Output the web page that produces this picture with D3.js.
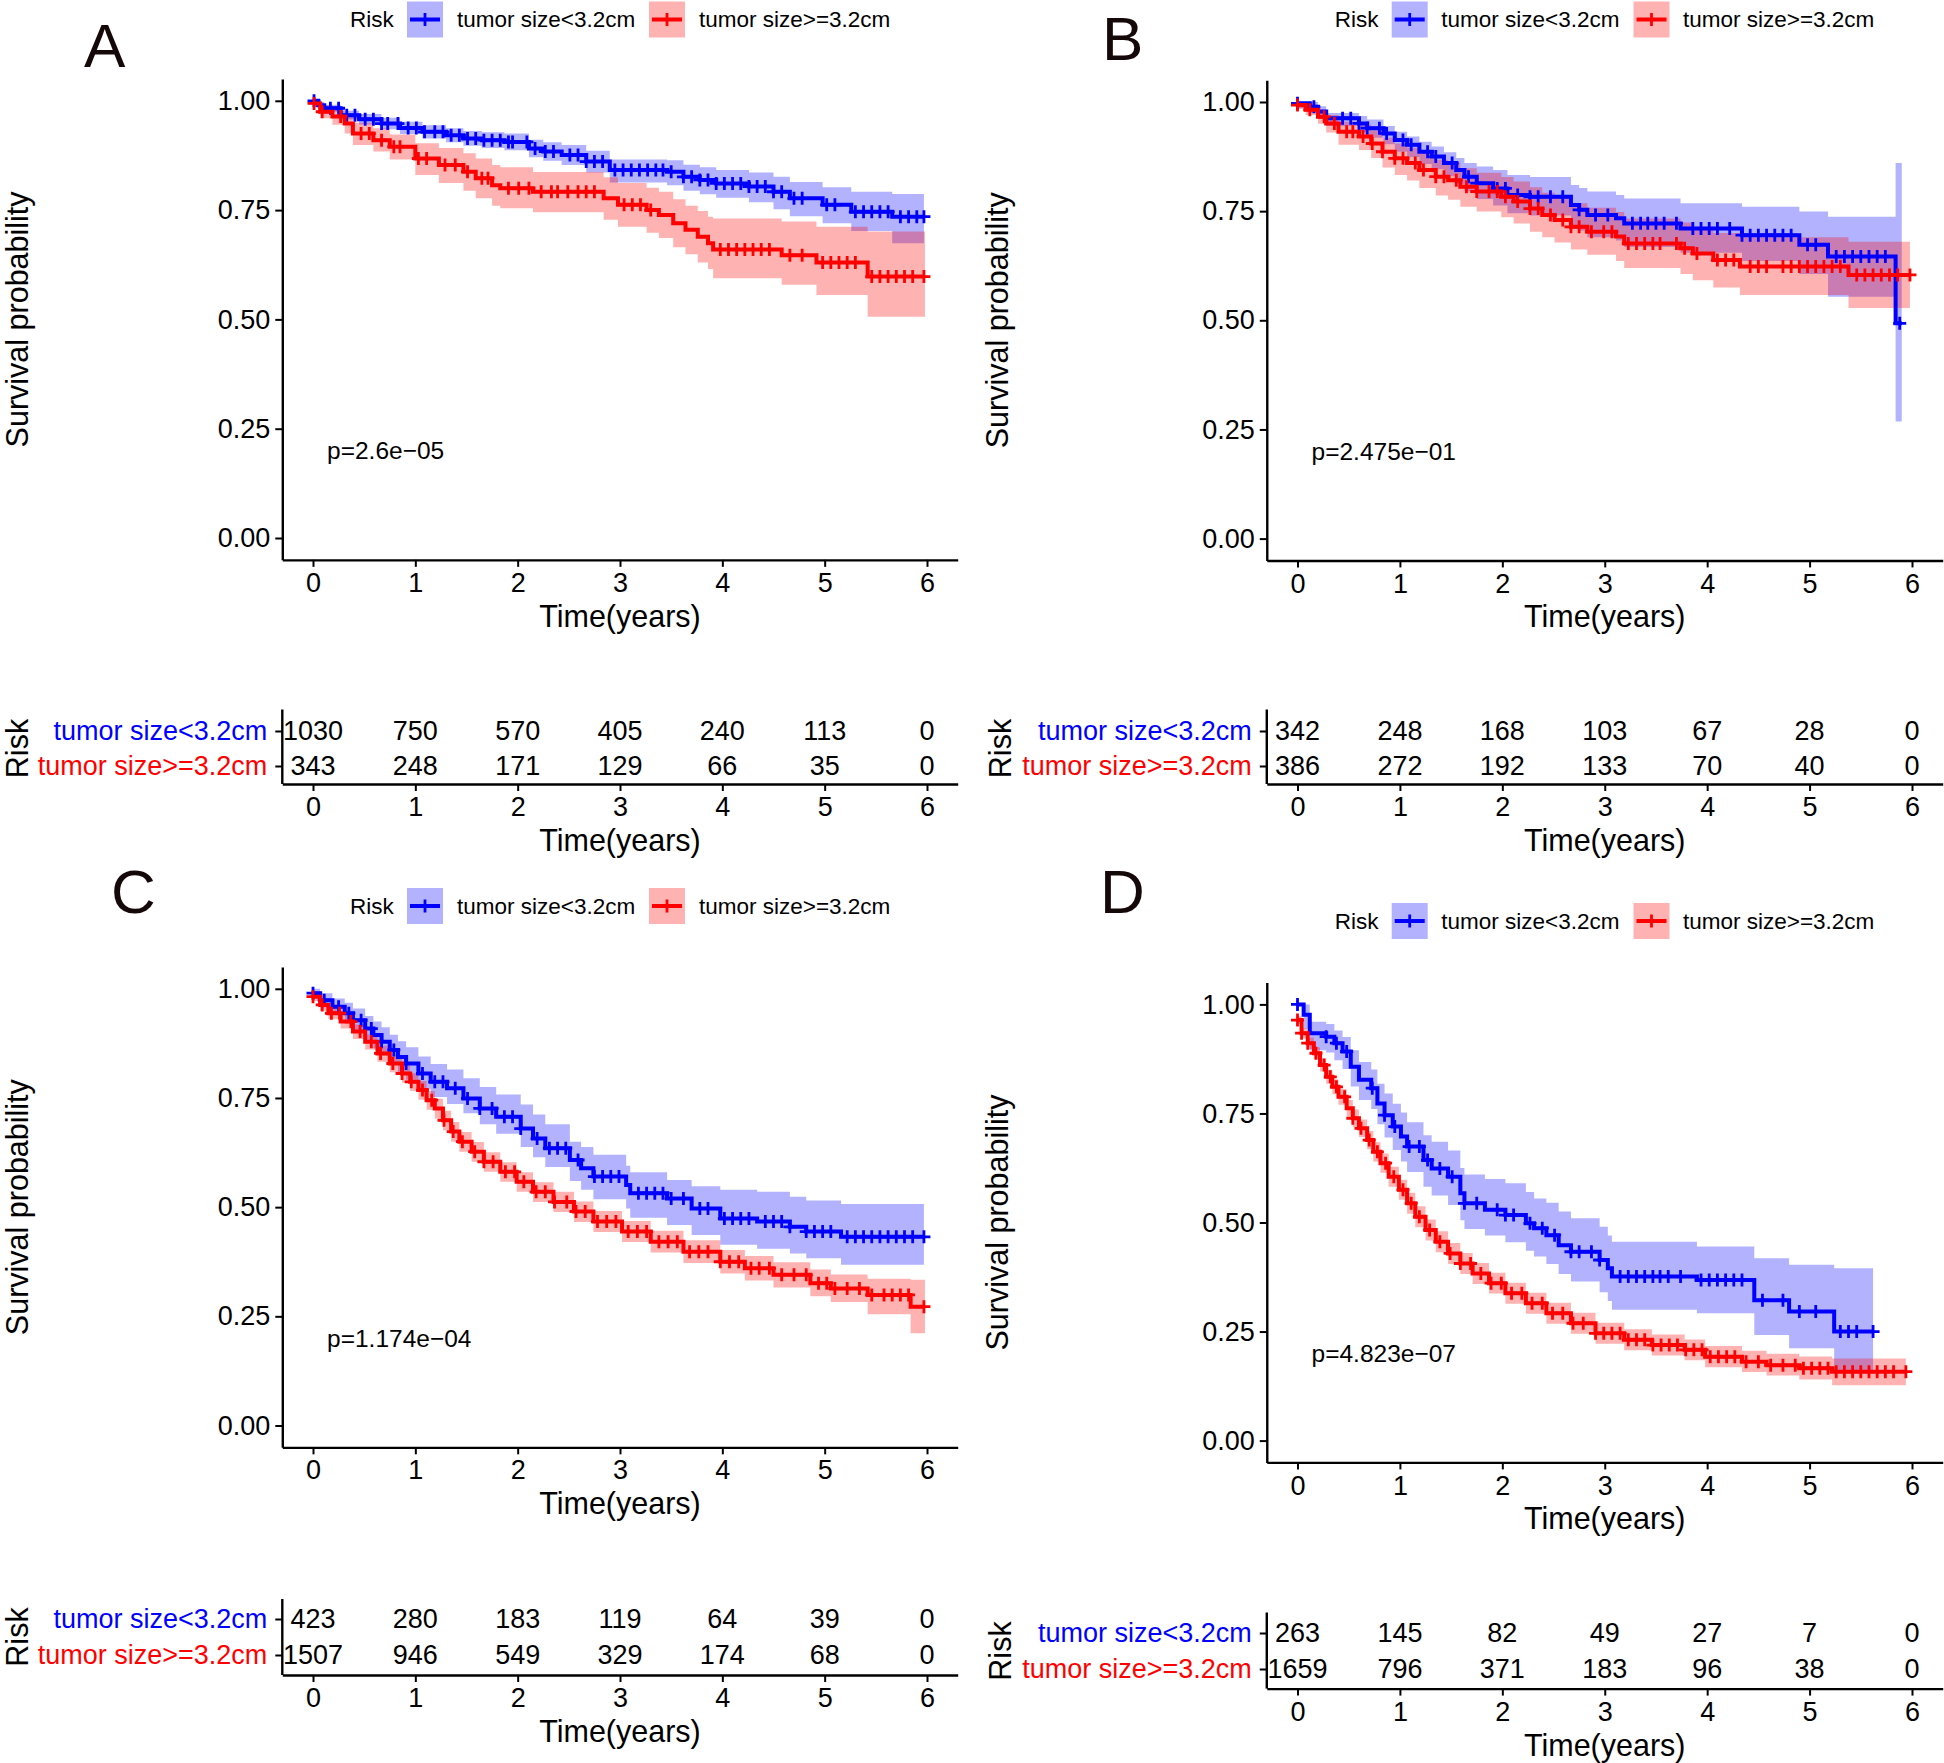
<!DOCTYPE html>
<html><head><meta charset="utf-8">
<script src="https://cdn.jsdelivr.net/npm/d3@7"></script>
<style>
body{margin:0;background:#fff}
svg{display:block}
text{font-family:"Liberation Sans",Arial,Helvetica,sans-serif}
</style>
</head><body>
<svg id="c" width="1944" height="1763"></svg>
<script>
// ---------------- DATA ----------------
const panelLetters = ["A","B","C","D"];
const groupLabels = ["tumor size<3.2cm","tumor size>=3.2cm"];
const groupColors = ["#0000FF","#FF0000"];
const legendTitle = "Risk";
const yTicks = [0,0.25,0.5,0.75,1];
const xTicks = [0,1,2,3,4,5,6];
const pValues = ["p=2.6e\u221205","p=2.475e\u221201","p=1.174e\u221204","p=4.823e\u221207"];

// numbers at risk
const riskA_low  = [1030,750,570,405,240,113,0];
const riskA_high = [343,248,171,129,66,35,0];
const riskB_low  = [342,248,168,103,67,28,0];
const riskB_high = [386,272,192,133,70,40,0];
const riskC_low  = [423,280,183,119,64,39,0];
const riskC_high = [1507,946,549,329,174,68,0];
const riskD_low  = [263,145,82,49,27,7,0];
const riskD_high = [1659,796,371,183,96,38,0];

// Panel A, tumor size<3.2cm
const timeA_low = [0,0.05,0.11,0.27,0.45,0.67,0.85,1.07,1.30,1.47,1.65,1.87,2.11,2.25,2.43,2.67,2.90,3.46,3.62,3.78,3.94,4.26,4.50,4.66,4.98,5.26,5.66,5.97];
const survA_low = [1.0,0.990,0.983,0.967,0.958,0.948,0.938,0.929,0.921,0.914,0.910,0.906,0.891,0.884,0.876,0.861,0.842,0.838,0.826,0.819,0.811,0.804,0.792,0.777,0.762,0.746,0.735,0.735];
const loA_low   = [1.0,0.983,0.975,0.957,0.946,0.935,0.924,0.914,0.905,0.897,0.892,0.887,0.871,0.863,0.853,0.836,0.813,0.807,0.794,0.786,0.778,0.768,0.752,0.736,0.720,0.702,0.674,0.674];
const upA_low   = [1.0,0.997,0.991,0.977,0.970,0.961,0.952,0.944,0.937,0.931,0.928,0.925,0.911,0.905,0.899,0.886,0.866,0.864,0.854,0.848,0.842,0.836,0.826,0.814,0.802,0.792,0.787,0.787];
const censA_low = [0.01,0.17,0.25,0.33,0.41,0.51,0.59,0.67,0.73,0.83,0.93,1.01,1.09,1.19,1.27,1.35,1.43,1.51,1.59,1.67,1.75,1.83,1.91,1.95,2.09,2.17,2.27,2.35,2.51,2.59,2.67,2.75,2.83,2.95,3.03,3.11,3.19,3.27,3.35,3.42,3.50,3.62,3.70,3.78,3.86,3.94,4.02,4.10,4.18,4.26,4.34,4.42,4.50,4.58,4.70,4.78,5.02,5.10,5.30,5.38,5.46,5.54,5.62,5.74,5.82,5.90,5.97];

// Panel A, tumor size>=3.2cm
const timeA_high = [0,0.07,0.19,0.31,0.39,0.59,0.75,1.00,1.23,1.47,1.59,1.75,1.83,2.15,2.84,2.98,3.26,3.38,3.52,3.64,3.76,3.86,3.91,4.58,4.92,5.42,5.98];
const survA_high = [0.994,0.975,0.964,0.948,0.925,0.910,0.895,0.868,0.853,0.838,0.823,0.807,0.800,0.792,0.777,0.762,0.750,0.739,0.720,0.705,0.689,0.674,0.660,0.647,0.630,0.598,0.598];
const loA_high   = [0.986,0.960,0.945,0.925,0.899,0.884,0.866,0.830,0.812,0.794,0.777,0.760,0.754,0.745,0.728,0.712,0.698,0.686,0.665,0.649,0.630,0.615,0.594,0.579,0.556,0.506,0.506];
const upA_high   = [1.0,0.990,0.983,0.970,0.950,0.937,0.923,0.903,0.892,0.880,0.868,0.853,0.848,0.837,0.825,0.812,0.801,0.792,0.775,0.760,0.748,0.735,0.731,0.724,0.712,0.701,0.701];
const censA_high = [0.01,0.09,0.27,0.47,0.55,0.67,0.79,0.85,1.03,1.11,1.29,1.39,1.51,1.65,1.71,1.91,2.01,2.11,2.23,2.33,2.39,2.49,2.59,2.67,2.75,3.04,3.12,3.20,3.30,3.98,4.06,4.14,4.22,4.30,4.38,4.46,4.66,4.78,4.98,5.06,5.14,5.22,5.30,5.46,5.54,5.62,5.70,5.78,5.86,5.97];

// Panel B, tumor size<3.2cm
const timeB_low = [0,0.12,0.20,0.28,0.60,0.68,0.84,0.95,1.07,1.19,1.31,1.43,1.55,1.63,1.75,1.91,2.05,2.27,2.67,2.75,2.83,3.11,3.19,3.74,4.34,4.90,5.18,5.84,5.90];
const survB_low = [0.997,0.989,0.978,0.963,0.951,0.940,0.928,0.913,0.902,0.886,0.875,0.860,0.844,0.829,0.814,0.802,0.787,0.783,0.764,0.753,0.741,0.734,0.722,0.710,0.695,0.673,0.646,0.493,0.493];
const loB_low   = [0.985,0.975,0.962,0.945,0.930,0.918,0.903,0.886,0.874,0.858,0.846,0.830,0.812,0.795,0.778,0.763,0.745,0.740,0.718,0.705,0.690,0.683,0.668,0.655,0.636,0.606,0.554,0.268,0.268];
const upB_low   = [1.0,1.0,0.990,0.975,0.968,0.960,0.945,0.932,0.921,0.909,0.898,0.885,0.872,0.860,0.852,0.844,0.833,0.828,0.810,0.803,0.795,0.787,0.779,0.768,0.760,0.749,0.737,0.860,0.860];
const censB_low = [0.0,0.16,0.44,0.52,0.60,0.68,0.80,0.87,1.03,1.11,1.27,1.35,1.51,1.67,1.75,1.95,2.03,2.15,2.27,2.35,2.47,2.59,2.75,2.91,3.03,3.27,3.35,3.42,3.50,3.58,3.70,3.86,3.94,4.02,4.10,4.22,4.34,4.42,4.50,4.58,4.66,4.74,4.82,4.98,5.06,5.26,5.34,5.42,5.50,5.58,5.66,5.74,5.88];

// Panel B, tumor size>=3.2cm
const timeB_high = [0,0.08,0.20,0.28,0.40,0.60,0.72,0.83,0.95,1.07,1.19,1.35,1.47,1.59,1.75,1.99,2.11,2.27,2.39,2.51,2.67,2.83,3.11,3.19,3.74,3.86,4.06,4.32,5.38,5.98];
const survB_high = [0.993,0.982,0.966,0.951,0.932,0.921,0.905,0.886,0.871,0.860,0.844,0.829,0.821,0.806,0.795,0.783,0.772,0.756,0.741,0.730,0.714,0.703,0.692,0.676,0.665,0.653,0.638,0.623,0.604,0.604];
const loB_high   = [0.985,0.970,0.950,0.930,0.902,0.890,0.872,0.850,0.833,0.820,0.803,0.786,0.776,0.760,0.749,0.736,0.722,0.703,0.690,0.678,0.662,0.650,0.636,0.620,0.606,0.592,0.575,0.558,0.528,0.528];
const upB_high   = [1.0,0.995,0.982,0.970,0.955,0.948,0.935,0.918,0.905,0.895,0.882,0.868,0.861,0.848,0.838,0.828,0.818,0.805,0.792,0.782,0.768,0.758,0.748,0.733,0.724,0.714,0.700,0.690,0.680,0.680];
const censB_high = [0.0,0.12,0.26,0.36,0.48,0.54,0.64,0.73,0.83,0.95,1.03,1.15,1.23,1.35,1.43,1.55,1.65,1.75,1.87,1.95,2.03,2.15,2.27,2.35,2.47,2.59,2.67,2.75,2.87,2.99,3.07,3.23,3.31,3.39,3.47,3.54,3.70,3.78,3.90,4.10,4.18,4.26,4.42,4.50,4.58,4.74,4.82,4.90,4.98,5.06,5.14,5.22,5.30,5.46,5.54,5.62,5.70,5.78,5.86,5.98];

// Panel C, tumor size<3.2cm
const timeC_low = [0,0.07,0.19,0.31,0.39,0.51,0.59,0.67,0.75,0.83,0.91,1.03,1.15,1.31,1.47,1.63,1.79,2.03,2.15,2.27,2.51,2.62,2.74,3.06,3.10,3.46,3.70,3.98,4.34,4.66,4.82,5.16,5.97];
const survC_low = [0.990,0.974,0.959,0.944,0.928,0.909,0.894,0.879,0.860,0.844,0.829,0.806,0.787,0.772,0.749,0.726,0.707,0.680,0.657,0.635,0.608,0.589,0.570,0.551,0.532,0.520,0.497,0.474,0.467,0.455,0.444,0.432,0.432];
const loC_low   = [0.978,0.957,0.940,0.920,0.902,0.881,0.864,0.847,0.826,0.808,0.792,0.770,0.752,0.736,0.715,0.690,0.668,0.638,0.614,0.592,0.560,0.540,0.518,0.497,0.476,0.459,0.436,0.414,0.405,0.394,0.383,0.368,0.368];
const upC_low   = [1.0,0.990,0.978,0.968,0.955,0.938,0.925,0.912,0.895,0.880,0.866,0.845,0.828,0.815,0.795,0.775,0.758,0.735,0.712,0.690,0.650,0.638,0.620,0.595,0.580,0.562,0.548,0.540,0.535,0.524,0.515,0.507,0.507];
const censC_low = [0.0,0.11,0.25,0.35,0.47,0.57,0.67,0.79,0.91,1.07,1.19,1.27,1.39,1.51,1.63,1.75,1.87,1.95,2.03,2.19,2.31,2.39,2.47,2.59,2.75,2.83,2.91,2.99,3.18,3.26,3.34,3.42,3.50,3.62,3.78,3.86,4.02,4.10,4.18,4.26,4.42,4.50,4.58,4.66,4.82,4.90,4.98,5.06,5.22,5.30,5.38,5.46,5.54,5.62,5.70,5.78,5.86,5.97];

// Panel C, tumor size>=3.2cm
const timeC_high = [0,0.07,0.15,0.27,0.39,0.51,0.63,0.75,0.87,0.95,1.03,1.11,1.19,1.27,1.35,1.43,1.55,1.67,1.83,1.99,2.15,2.35,2.55,2.74,3.02,3.30,3.62,3.98,4.22,4.50,4.86,5.06,5.42,5.84,5.98];
const survC_high = [0.982,0.963,0.944,0.925,0.902,0.879,0.852,0.829,0.806,0.787,0.768,0.745,0.726,0.699,0.673,0.650,0.627,0.604,0.581,0.558,0.535,0.512,0.490,0.467,0.444,0.421,0.398,0.375,0.360,0.345,0.326,0.314,0.299,0.272,0.272];
const loC_high   = [0.972,0.950,0.930,0.909,0.885,0.861,0.833,0.809,0.785,0.766,0.746,0.723,0.703,0.676,0.650,0.627,0.604,0.581,0.558,0.535,0.512,0.489,0.466,0.443,0.420,0.396,0.372,0.348,0.332,0.316,0.296,0.283,0.255,0.211,0.211];
const upC_high   = [0.990,0.975,0.958,0.940,0.918,0.896,0.870,0.848,0.826,0.807,0.789,0.766,0.748,0.721,0.695,0.672,0.649,0.626,0.603,0.580,0.557,0.535,0.513,0.491,0.468,0.446,0.424,0.402,0.388,0.374,0.357,0.346,0.336,0.334,0.334];
const censC_high = [0.0,0.09,0.18,0.26,0.37,0.46,0.57,0.66,0.78,0.87,0.96,1.07,1.16,1.28,1.37,1.46,1.58,1.67,1.76,1.88,1.97,2.06,2.18,2.27,2.36,2.48,2.57,2.66,2.78,2.87,2.96,3.08,3.17,3.26,3.38,3.47,3.56,3.68,3.77,3.86,3.98,4.07,4.16,4.28,4.36,4.46,4.58,4.70,4.82,4.94,5.02,5.10,5.22,5.34,5.46,5.58,5.66,5.74,5.82,5.97];

// Panel D, tumor size<3.2cm
const timeD_low = [0,0.06,0.12,0.28,0.36,0.44,0.52,0.60,0.72,0.78,0.85,0.93,1.01,1.07,1.23,1.31,1.47,1.59,1.63,1.83,2.03,2.23,2.31,2.43,2.55,2.67,2.95,3.03,3.07,3.90,4.46,4.80,5.24,5.62];
const survD_low = [1.0,0.976,0.934,0.926,0.911,0.892,0.857,0.827,0.808,0.773,0.746,0.720,0.697,0.674,0.643,0.624,0.605,0.567,0.544,0.529,0.517,0.498,0.487,0.471,0.448,0.433,0.414,0.395,0.376,0.368,0.322,0.296,0.250,0.250];
const loD_low   = [1.0,0.945,0.895,0.890,0.872,0.852,0.812,0.781,0.760,0.725,0.695,0.666,0.640,0.616,0.582,0.562,0.540,0.505,0.485,0.470,0.455,0.435,0.422,0.405,0.382,0.365,0.340,0.320,0.300,0.292,0.242,0.212,0.154,0.154];
const upD_low   = [1.0,1.0,0.960,0.955,0.940,0.925,0.895,0.868,0.851,0.818,0.796,0.772,0.752,0.730,0.700,0.685,0.665,0.625,0.610,0.600,0.590,0.570,0.555,0.545,0.525,0.510,0.490,0.470,0.456,0.445,0.418,0.403,0.395,0.395];
const censD_low = [0.0,0.28,0.38,0.48,0.73,0.85,0.95,1.09,1.19,1.27,1.39,1.51,1.63,1.75,1.95,2.03,2.11,2.27,2.39,2.51,2.67,2.75,2.87,2.95,3.15,3.23,3.31,3.39,3.47,3.54,3.62,3.74,3.94,4.02,4.10,4.18,4.26,4.34,4.54,4.74,4.90,5.06,5.30,5.38,5.46,5.62];

// Panel D, tumor size>=3.2cm
const timeD_high = [0,0.04,0.10,0.16,0.22,0.28,0.34,0.40,0.48,0.54,0.60,0.68,0.74,0.81,0.89,0.99,1.07,1.15,1.25,1.35,1.47,1.59,1.71,1.87,2.03,2.23,2.43,2.67,2.91,3.19,3.46,3.78,3.98,4.34,4.58,4.90,5.22,5.94];
const survD_high = [0.964,0.934,0.911,0.888,0.861,0.834,0.811,0.788,0.762,0.739,0.716,0.689,0.662,0.636,0.605,0.575,0.544,0.513,0.483,0.456,0.429,0.406,0.383,0.361,0.338,0.315,0.292,0.269,0.246,0.231,0.219,0.208,0.192,0.181,0.173,0.166,0.158,0.158];
const loD_high   = [0.955,0.922,0.898,0.874,0.846,0.818,0.794,0.770,0.743,0.719,0.696,0.668,0.640,0.614,0.582,0.552,0.520,0.489,0.459,0.432,0.405,0.382,0.359,0.337,0.314,0.291,0.268,0.245,0.222,0.207,0.195,0.184,0.168,0.157,0.149,0.140,0.127,0.127];
const upD_high   = [0.973,0.946,0.924,0.902,0.876,0.850,0.828,0.806,0.781,0.759,0.736,0.710,0.684,0.658,0.628,0.598,0.568,0.537,0.507,0.480,0.453,0.430,0.407,0.385,0.362,0.339,0.316,0.293,0.270,0.255,0.243,0.232,0.217,0.206,0.199,0.193,0.188,0.188];
const censD_high = [0.0,0.04,0.10,0.18,0.26,0.32,0.38,0.46,0.54,0.62,0.70,0.78,0.86,0.94,1.03,1.11,1.19,1.29,1.39,1.49,1.59,1.69,1.79,1.89,1.99,2.09,2.19,2.29,2.39,2.49,2.59,2.69,2.79,2.91,2.99,3.07,3.15,3.23,3.31,3.39,3.47,3.55,3.63,3.71,3.79,3.87,3.95,4.03,4.11,4.19,4.27,4.38,4.50,4.62,4.74,4.86,4.94,5.02,5.10,5.18,5.26,5.34,5.42,5.50,5.58,5.66,5.74,5.82,5.94];

// ---------------- assemble ----------------
const panelData = [
  {curves:[{t:timeA_low,s:survA_low,lo:loA_low,up:upA_low,c:censA_low},{t:timeA_high,s:survA_high,lo:loA_high,up:upA_high,c:censA_high}], risk:[riskA_low,riskA_high]},
  {curves:[{t:timeB_low,s:survB_low,lo:loB_low,up:upB_low,c:censB_low},{t:timeB_high,s:survB_high,lo:loB_high,up:upB_high,c:censB_high}], risk:[riskB_low,riskB_high]},
  {curves:[{t:timeC_low,s:survC_low,lo:loC_low,up:upC_low,c:censC_low},{t:timeC_high,s:survC_high,lo:loC_high,up:upC_high,c:censC_high}], risk:[riskC_low,riskC_high]},
  {curves:[{t:timeD_low,s:survD_low,lo:loD_low,up:upD_low,c:censD_low},{t:timeD_high,s:survD_high,lo:loD_high,up:upD_high,c:censD_high}], risk:[riskD_low,riskD_high]}
];

// ---------------- LAYOUT (pixels) ----------------
const layout = [
  {letterX:84, letterY:67, legY:1.5, legX:[350,407,457,649,699], px0:313, px6:927, py0:538, py1:100.8, yTitleX:28, tTop:709.5, tBot:784, rows:[731,766], riskTitleX:27.5},
  {letterX:1102, letterY:60, legY:1.5, legX:[1334.7,1391.7,1441.3,1633.5,1683], px0:1297.5, px6:1912, py0:538.6, py1:102, yTitleX:1008, tTop:709.5, tBot:784, rows:[731,766], riskTitleX:1010.5},
  {letterX:111, letterY:913, legY:888, legX:[350,407,457,649,699], px0:313, px6:927, py0:1425.5, py1:988.8, yTitleX:28, tTop:1599, tBot:1675, rows:[1619,1655], riskTitleX:27.5},
  {letterX:1100, letterY:913, legY:903, legX:[1334.7,1391.7,1441.3,1633.5,1683], px0:1297.5, px6:1912, py0:1440.6, py1:1004.4, yTitleX:1008, tTop:1612.5, tBot:1688.6, rows:[1633,1669], riskTitleX:1010.5}
];

const svg = d3.select("#c");
svg.append("rect").attr("width",1944).attr("height",1763).attr("fill","#fff");

const F_TICK = 27, F_TITLE = 30.5, F_LEG = 22.5, F_P = 24.5, F_LET = 62;
const LW = 4;
const plusPath = "M-6.5,0H6.5M0,-6.5V6.5";
const MW = 2.8;

function styleAxis(ax){
  ax.select(".domain").attr("stroke","#000").attr("stroke-width",2.4);
  ax.selectAll(".tick line").attr("stroke","#000").attr("stroke-width",2);
  ax.selectAll(".tick text").attr("fill","#000").attr("font-size",F_TICK)
    .attr("font-family",'"Liberation Sans",Arial,sans-serif');
}

function survAt(c, t){
  const i = d3.bisectRight(c.t, t) - 1;
  return c.s[Math.max(0,i)];
}

panelData.forEach((D, pi) => {
  const L = layout[pi];
  const g = svg.append("g");
  const x = d3.scaleLinear().domain([0,6]).range([L.px0, L.px6]);
  const y = d3.scaleLinear().domain([0,1]).range([L.py0, L.py1]);
  const xe = d3.scaleLinear().domain([-0.3,6.3]).range([x(-0.3), x(6.3)]);
  const ye = d3.scaleLinear().domain([-0.05,1.05]).range([y(-0.05), y(1.05)]);

  // panel letter
  g.append("text").attr("x",L.letterX).attr("y",L.letterY).attr("font-size",F_LET)
    .attr("fill","#140808").text(panelLetters[pi]);

  // legend
  const lg = g.append("g");
  lg.append("text").attr("x",L.legX[0]).attr("y",L.legY+18).attr("dy","0.35em")
    .attr("font-size",F_LEG).attr("fill","#000").text(legendTitle);
  [0,1].forEach(k => {
    const bx = L.legX[1+2*k];
    lg.append("rect").attr("x",bx).attr("y",L.legY).attr("width",36).attr("height",36)
      .attr("fill",groupColors[k]).attr("fill-opacity",0.3);
    lg.append("line").attr("x1",bx+3).attr("x2",bx+33).attr("y1",L.legY+18).attr("y2",L.legY+18)
      .attr("stroke",groupColors[k]).attr("stroke-width",LW);
    lg.append("path").attr("d",plusPath).attr("transform",`translate(${bx+18},${L.legY+18})`)
      .attr("stroke",groupColors[k]).attr("stroke-width",MW).attr("fill","none");
    lg.append("text").attr("x",L.legX[2+2*k]).attr("y",L.legY+18).attr("dy","0.35em")
      .attr("font-size",F_LEG).attr("fill","#000").text(groupLabels[k]);
  });

  // bands
  D.curves.forEach((c,k) => {
    const pts = c.t.map((t,j)=>({t, lo:c.lo[j], up:c.up[j]}));
    g.append("path").datum(pts)
      .attr("d", d3.area().curve(d3.curveStepAfter).x(d=>x(d.t)).y0(d=>y(d.lo)).y1(d=>y(d.up)))
      .attr("fill", groupColors[k]).attr("fill-opacity",0.3).attr("stroke","none");
  });
  // lines + censor marks
  D.curves.forEach((c,k) => {
    const pts = c.t.map((t,j)=>({t, s:c.s[j]}));
    g.append("path").datum(pts)
      .attr("d", d3.line().curve(d3.curveStepAfter).x(d=>x(d.t)).y(d=>y(d.s)))
      .attr("fill","none").attr("stroke",groupColors[k]).attr("stroke-width",LW);
    g.append("g").selectAll("path").data(c.c).join("path")
      .attr("d",plusPath)
      .attr("transform", t => `translate(${x(t)},${y(survAt(c,t))})`)
      .attr("stroke",groupColors[k]).attr("stroke-width",MW).attr("fill","none");
  });

  // axes
  const axY = g.append("g").attr("transform",`translate(${xe(-0.3)},0)`)
    .call(d3.axisLeft(ye).tickValues(yTicks).tickFormat(d3.format(".2f")).tickSize(7).tickSizeOuter(0).tickPadding(5));
  styleAxis(axY);
  const axX = g.append("g").attr("transform",`translate(0,${ye(-0.05)})`)
    .call(d3.axisBottom(xe).tickValues(xTicks).tickFormat(d3.format("d")).tickSize(7).tickSizeOuter(0).tickPadding(6));
  styleAxis(axX);

  // axis titles
  g.append("text").attr("transform",`translate(${L.yTitleX},${y(0.5)}) rotate(-90)`)
    .attr("text-anchor","middle").attr("font-size",F_TITLE).attr("fill","#000").text("Survival probability");
  g.append("text").attr("x",x(3)).attr("y",ye(-0.05)+67).attr("text-anchor","middle")
    .attr("font-size",F_TITLE).attr("fill","#000").text("Time(years)");

  // p-value
  g.append("text").attr("x",x(0.137)).attr("y",y(0.2)).attr("dy","0.35em")
    .attr("font-size",F_P).attr("fill","#000").text(pValues[pi]);

  // risk table
  const rowScale = d3.scalePoint().domain(groupLabels).range(L.rows);
  const tg = svg.append("g");
  const tAxY = tg.append("g").attr("transform",`translate(${xe(-0.3)},0)`)
    .call(d3.axisLeft(rowScale).tickSize(7).tickSizeOuter(0).tickPadding(8));
  styleAxis(tAxY);
  tAxY.select(".domain").remove();
  tAxY.append("line").attr("x1",0).attr("x2",0).attr("y1",L.tTop).attr("y2",L.tBot)
    .attr("stroke","#000").attr("stroke-width",2.4);
  tAxY.selectAll(".tick text").attr("fill",(d,i)=>groupColors[i]);
  const tx = d3.scaleLinear().domain([-0.3,6.3]).range([x(-0.3), x(6.3)]);
  const tAxX = tg.append("g").attr("transform",`translate(0,${L.tBot})`)
    .call(d3.axisBottom(tx).tickValues(xTicks).tickFormat(d3.format("d")).tickSize(7).tickSizeOuter(0).tickPadding(6));
  styleAxis(tAxX);
  D.risk.forEach((row,k) => {
    tg.append("g").selectAll("text").data(row).join("text")
      .attr("x",(d,j)=>tx(xTicks[j]))
      .attr("y",rowScale(groupLabels[k]))
      .attr("dy","0.35em").attr("text-anchor","middle")
      .attr("font-size",F_TICK).attr("fill","#000").text(d=>d);
  });
  tg.append("text").attr("transform",`translate(${L.riskTitleX},${(L.rows[0]+L.rows[1])/2}) rotate(-90)`)
    .attr("text-anchor","middle").attr("font-size",F_TITLE).attr("fill","#000").text(legendTitle);
  tg.append("text").attr("x",tx(3)).attr("y",L.tBot+67).attr("text-anchor","middle")
    .attr("font-size",F_TITLE).attr("fill","#000").text("Time(years)");
});
</script>
</body></html>
